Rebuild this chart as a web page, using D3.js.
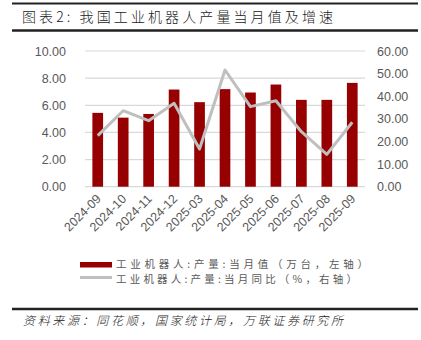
<!DOCTYPE html>
<html><head><meta charset="utf-8">
<script src="https://cdn.jsdelivr.net/npm/d3@7"></script>
<style>body{margin:0;background:#fff}svg{display:block}</style>
</head><body>
<script>
const categories = ["2024-09","2024-10","2024-11","2024-12","2025-03","2025-04","2025-05","2025-06","2025-07","2025-08","2025-09"];
const outputValues = [5.44,5.09,5.36,7.16,6.23,7.19,6.94,7.53,6.40,6.40,7.65];
const yoyValues = [22.6,33.6,29.2,36.9,16.7,51.6,35.4,38.0,24.3,14.3,28.5];
const leftTicks = [0,2,4,6,8,10];
const rightTicks = [0,10,20,30,40,50,60];
const titleText = "图表2:  我国工业机器人产量当月值及增速";
const legendLabels = ["工业机器人:产量:当月值（万台，左轴）","工业机器人:产量:当月同比（%，右轴）"];
const sourceText = "资料来源：同花顺，国家统计局，万联证券研究所";

const W = 421, H = 340;
const svg = d3.select("body").append("svg").attr("width", W).attr("height", H);
svg.append("rect").attr("width", W).attr("height", H).attr("fill", "#fff");

const cjk = "'Noto Sans CJK SC', sans-serif";
const num = "'Liberation Sans', Arial, sans-serif";
const gray = "#595959";

// header / footer rules
svg.append("line").attr("x1",12).attr("x2",418).attr("y1",3.5).attr("y2",3.5).attr("stroke","#222").attr("stroke-width",2);
svg.append("line").attr("x1",12).attr("x2",418).attr("y1",30.5).attr("y2",30.5).attr("stroke","#222").attr("stroke-width",2.5);
svg.append("line").attr("x1",12).attr("x2",418).attr("y1",309).attr("y2",309).attr("stroke","#222").attr("stroke-width",2.5);

svg.append("text").attr("x",22).attr("y",22).attr("font-family",cjk).attr("font-size",14).attr("font-weight",300)
  .attr("fill","#222").attr("textLength",311).attr("lengthAdjust","spacing").text(titleText);
svg.append("text").attr("x",23).attr("y",325).attr("font-family",cjk).attr("font-size",12).attr("font-weight",300)
  .attr("font-style","italic").attr("fill","#222").attr("textLength",320).attr("lengthAdjust","spacing").text(sourceText);

const x0 = 85, x1 = 365, yTop = 51, yBot = 186.7;
const x = d3.scaleBand().domain(categories).range([x0, x1]).paddingInner(0.58).paddingOuter(0.29);
const yL = d3.scaleLinear().domain([0,10]).range([yBot, yTop]);
const yR = d3.scaleLinear().domain([0,60]).range([yBot, yTop]);

// gridlines
svg.append("g").selectAll("line").data(leftTicks).join("line")
  .attr("x1", x0).attr("x2", x1).attr("y1", d => yL(d)).attr("y2", d => yL(d))
  .attr("stroke", "#d9d9d9").attr("stroke-width", 1.2);

// left axis
const la = svg.append("g").attr("transform", `translate(${x0-19},0)`)
  .call(d3.axisLeft(yL).tickValues(leftTicks).tickFormat(d3.format(".2f")).tickSize(0).tickPadding(0));
la.select(".domain").remove();
la.selectAll("text").attr("font-family", num).attr("font-size", 12.5).attr("fill", gray);

// right axis
const ra = svg.append("g").attr("transform", `translate(${x1+12},0)`)
  .call(d3.axisRight(yR).tickValues(rightTicks).tickFormat(d3.format(".2f")).tickSize(0).tickPadding(0));
ra.select(".domain").remove();
ra.selectAll("text").attr("font-family", num).attr("font-size", 12.5).attr("fill", gray);

// bars
svg.append("g").selectAll("rect").data(outputValues).join("rect")
  .attr("x", (d,i) => x(categories[i])).attr("width", x.bandwidth())
  .attr("y", d => yL(d)).attr("height", d => yL(0) - yL(d))
  .attr("fill", "#960000");

// line
const line = d3.line().x((d,i) => x(categories[i]) + x.bandwidth()/2).y(d => yR(d));
svg.append("path").datum(yoyValues).attr("d", line).attr("fill","none")
  .attr("stroke","#bfbfbf").attr("stroke-width",3).attr("stroke-linejoin","round");

// x axis labels
const xa = svg.append("g").attr("transform", `translate(0,${yBot})`)
  .call(d3.axisBottom(x).tickSize(0).tickPadding(0));
xa.select(".domain").remove();
xa.selectAll("text").attr("font-family", num).attr("font-size", 12.5).attr("fill", gray)
  .attr("text-anchor","end").attr("dy", null).attr("y", 0)
  .attr("transform","translate(4,13) rotate(-45)");

// legend
svg.append("rect").attr("x",80).attr("y",262).attr("width",32).attr("height",5.5).attr("fill","#960000");
svg.append("line").attr("x1",80).attr("x2",112).attr("y1",277.5).attr("y2",277.5).attr("stroke","#bfbfbf").attr("stroke-width",3);
svg.append("text").attr("x",116).attr("y",268).attr("font-family",cjk).attr("font-size",10.5).attr("fill",gray)
  .attr("textLength",252).attr("lengthAdjust","spacing").text(legendLabels[0]);
svg.append("text").attr("x",116).attr("y",282.5).attr("font-family",cjk).attr("font-size",10.5).attr("fill",gray)
  .attr("textLength",241).attr("lengthAdjust","spacing").text(legendLabels[1]);
</script>
</body></html>
